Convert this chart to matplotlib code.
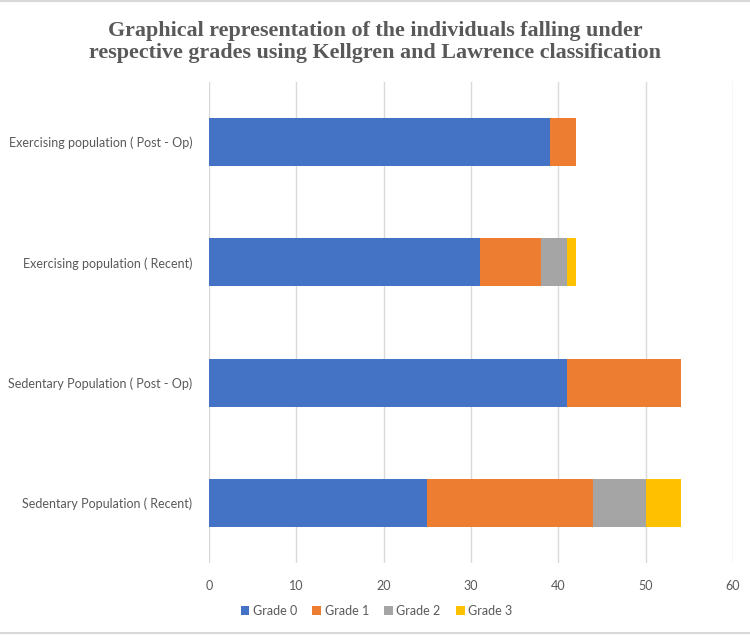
import matplotlib
matplotlib.use("Agg")
import matplotlib.pyplot as plt
import numpy as np

categories = ["Sedentary Population ( Recent)", "Sedentary Population ( Post - Op)",
              "Exercising population ( Recent)", "Exercising population ( Post - Op)"]
series_names = ["Grade 0", "Grade 1", "Grade 2", "Grade 3"]
grade0 = [25, 41, 31, 39]
grade1 = [19, 13, 7, 3]
grade2 = [6, 0, 3, 0]
grade3 = [4, 0, 1, 0]
colors = ["#4472C4", "#ED7D31", "#A5A5A5", "#FFC000"]
xticks = [0, 10, 20, 30, 40, 50, 60]

plt.rcParams['font.family'] = ['Lato', 'DejaVu Sans']
fig = plt.figure(figsize=(7.5, 6.36), dpi=100)
ax = fig.add_axes([0.2787, 0.1148, 0.6986, 0.7562])

y = np.arange(len(categories))
left = np.zeros(len(categories))
for name, vals, c in zip(series_names, [grade0, grade1, grade2, grade3], colors):
    ax.barh(y, vals, left=left, height=0.4, color=c, label=name, zorder=3)
    left += np.array(vals)

ax.set_xlim(0, 60)
ax.set_ylim(-0.5, 3.5)
ax.set_xticks(xticks)
ax.set_yticks(y)
ax.set_yticklabels(categories)
for s in ax.spines.values():
    s.set_visible(False)
ax.grid(axis='x', color='#D9D9D9', linewidth=1, zorder=0)
ax.tick_params(axis='both', length=0, labelsize=9, labelcolor='#595959')
ax.tick_params(axis='x', pad=12)
ax.tick_params(axis='y', pad=12)

fig.text(0.5, 0.934, "Graphical representation of the individuals falling under\nrespective grades using Kellgren and Lawrence classification",
         ha='center', va='center', fontsize=15.8, fontweight='bold', color='#595959',
         family='Liberation Serif', linespacing=1.15)

leg = fig.legend(loc='center', bbox_to_anchor=(0.502, 0.039), ncol=4, frameon=False,
                 fontsize=9, handlelength=0.7, handleheight=0.7, handletextpad=0.3,
                 columnspacing=1.2, labelcolor='#595959')

fig.add_artist(plt.Line2D([0, 1], [0.998, 0.998], color='#D9D9D9', lw=1.5, transform=fig.transFigure))
fig.add_artist(plt.Line2D([0, 1], [0.004, 0.004], color='#D9D9D9', lw=1.5, transform=fig.transFigure))

fig.savefig("out.png", dpi=100)
